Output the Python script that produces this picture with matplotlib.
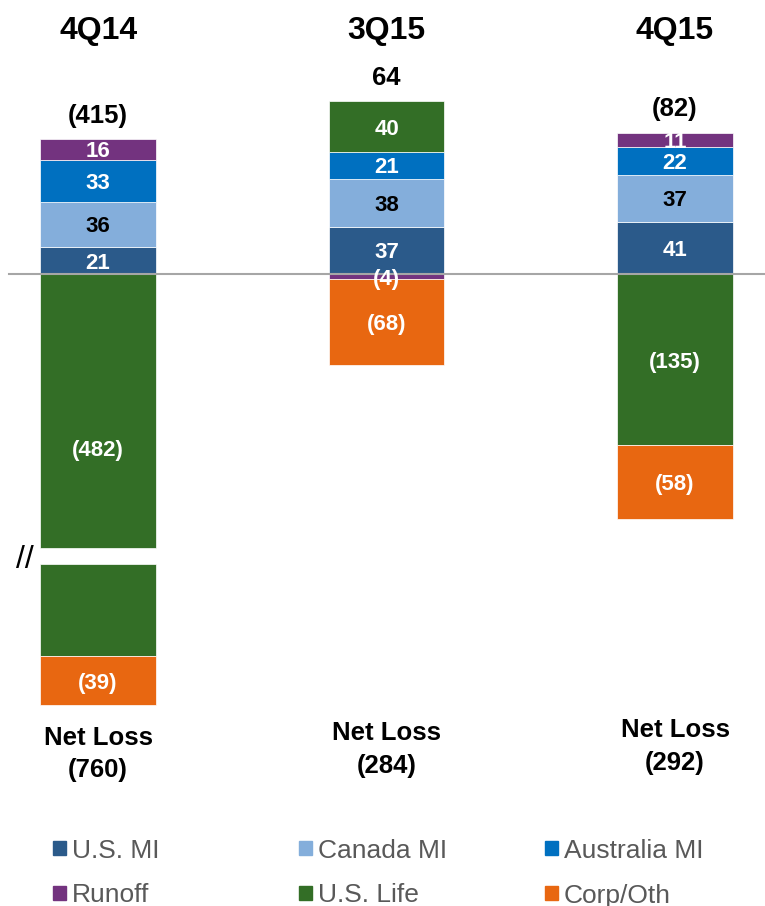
import matplotlib
matplotlib.use("Agg")
import matplotlib.pyplot as plt
from matplotlib.patches import Rectangle

plt.rcParams['font.family'] = ['Liberation Sans', 'DejaVu Sans']

# quarter data ($ millions)
quarters = ['4Q14', '3Q15', '4Q15']
series_names = ['U.S. MI', 'Canada MI', 'Australia MI', 'Runoff', 'U.S. Life', 'Corp/Oth']
us_mi = [21, 37, 41]
canada_mi = [36, 38, 37]
australia_mi = [33, 21, 22]
runoff = [16, -4, 11]
us_life = [-482, 40, -135]
corp_oth = [-39, -68, -58]
totals = [-415, 64, -82]
net_loss = [-760, -284, -292]

colors = ['#2B5A8A', '#84AEDB', '#0070C0', '#73337F', '#336E26', '#E86711']
label_colors = ['white', 'black', 'white', 'white', 'white', 'white']

# axis break for the big 4Q14 U.S. Life loss
break_at = 216
break_hidden = 194
break_gap = 12.6


def fmt(v):
    return f'({abs(v)})' if v < 0 else f'{v}'


def to_display(v):
    # map a true value onto the compressed axis
    if v >= -break_at:
        return v
    if v > -(break_at + break_hidden):
        return -break_at
    return v + break_hidden - break_gap


fig = plt.figure(figsize=(7.65, 9.06), dpi=100)
ax = fig.add_axes([0, 0, 1, 1])
ax.set_xlim(-0.34, 2.312)
ax.set_ylim(-497.6, 215.7)
ax.axis('off')

width = 0.4
all_series = [us_mi, canada_mi, australia_mi, runoff, us_life, corp_oth]

for i, q in enumerate(quarters):
    pos, neg = 0, 0
    for s, vals in enumerate(all_series):
        v = vals[i]
        if v >= 0:
            bottom, top = pos, pos + v
            pos = top
        else:
            bottom, top = neg + v, neg
            neg = bottom
        d_bot, d_top = to_display(bottom), to_display(top)
        broken = bottom < -(break_at + break_hidden) and top > -break_at
        if broken:
            ax.bar(i, -break_at - top, bottom=top, width=width, color=colors[s],
                   edgecolor='white', linewidth=0.5, zorder=2)
            low_top = -break_at - break_gap
            ax.bar(i, d_bot - low_top, bottom=low_top, width=width, color=colors[s],
                   edgecolor='white', linewidth=0.5, zorder=2)
            label_y = -break_at * 0.635
            ax.text(i - width / 2 - 0.053, -break_at - break_gap / 2, '//',
                    ha='center', va='center_baseline', fontsize=23)
        else:
            ax.bar(i, d_top - d_bot, bottom=d_bot, width=width, color=colors[s],
                   edgecolor='white', linewidth=0.5, zorder=2)
            label_y = (d_top + d_bot) / 2
        ax.text(i, label_y, fmt(v), ha='center', va='center_baseline', fontsize=16,
                fontweight='bold', color=label_colors[s], zorder=4)

    # quarter header, total above, net loss below
    ax.text(i, 193.7, q, ha='center', va='center_baseline', fontsize=23, fontweight='bold')
    ax.text(i, pos + 20.5, fmt(totals[i]), ha='center', va='center_baseline',
            fontsize=18.5, fontweight='bold')

net_y = [-378, -374.5, -372]
for i, v in enumerate(net_loss):
    ax.text(i, net_y[i], 'Net Loss\n' + fmt(v), ha='center', va='center',
            fontsize=18.5, fontweight='bold', linespacing=1.45)

ax.axhline(0, xmin=0.012, xmax=1, color='#A6A6A6', linewidth=1.5, zorder=3)

# legend, 3 columns x 2 rows
col_x = [53, 299, 545]
row_y = [848, 893]
W, H = 765, 906
for s, name in enumerate(series_names):
    x = col_x[s % 3]
    y = row_y[s // 3]
    fig.add_artist(Rectangle((x / W, 1 - (y + 7) / H), 13 / W, 14 / H,
                             transform=fig.transFigure, color=colors[s]))
    fig.text((x + 19) / W, 1 - y / H, name, ha='left', va='center_baseline',
             fontsize=19, color='#595959')

fig.savefig('out.png', dpi=100)
